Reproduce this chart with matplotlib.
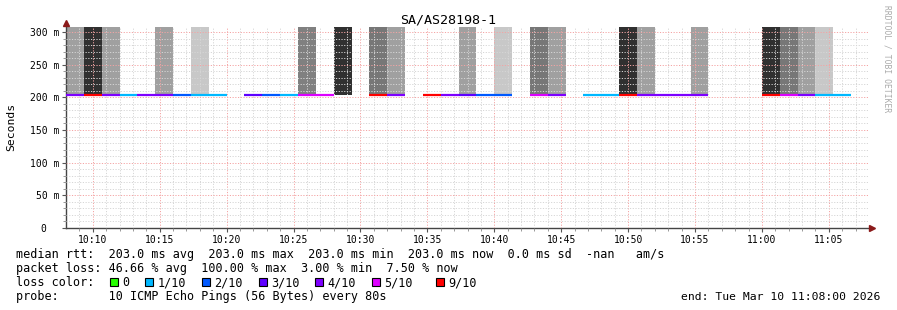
# SmokePing style latency graph for SA/AS28198-1

import matplotlib
matplotlib.use('Agg')
import matplotlib.pyplot as plt
from matplotlib.patches import Rectangle

W, H = 897, 310
MONO = 'DejaVu Sans Mono'

title = 'SA/AS28198-1'
step_min = 80 / 60          # one bin = 80 s
start_min = 8               # minutes after 10:00
median_ms = 203.0

# loss per 80 s bin, in tenths (None = no data)
loss = [4, 9, 4, 1, 4, 4, 2, 1, 1, None,
        3, 2, 1, 5, 5, None, None, 9, 4, None,
        9, 4, 3, 2, 2, None, 5, 4, None, 1,
        1, 9, 4, 4, 4, 4, None, None, None, 9,
        5, 4, 1, 1, None]
# smoke shade per bin (None = no smoke)
smoke = ['#a0a0a0', '#303030', '#a0a0a0', None, None, '#a0a0a0', None, '#c8c8c8', None, None,
         None, None, None, '#808080', None, '#303030', None, '#777777', '#a0a0a0', None,
         None, None, '#a0a0a0', None, '#c8c8c8', None, '#777777', '#a0a0a0', None, None,
         None, '#303030', '#a0a0a0', None, None, '#a0a0a0', None, None, None, '#303030',
         '#777777', '#a0a0a0', '#c8c8c8', None, None]

loss_keys = [0, 1, 2, 3, 4, 5, 9]
loss_names = ['0', '1/10', '2/10', '3/10', '4/10', '5/10', '9/10']
loss_cols = ['#26ff00', '#00b8ff', '#0059ff', '#5e00ff', '#7e00ff', '#dd00ff', '#ff0000']

x_ticks = [10, 15, 20, 25, 30, 35, 40, 45, 50, 55, 60, 65]
x_labels = ['10:10', '10:15', '10:20', '10:25', '10:30', '10:35',
            '10:40', '10:45', '10:50', '10:55', '11:00', '11:05']
y_ticks = [0, 50, 100, 150, 200, 250, 300]
y_labels = ['0  ', '50 m', '100 m', '150 m', '200 m', '250 m', '300 m']

legend_lines = [
    'median rtt:  203.0 ms avg  203.0 ms max  203.0 ms min  203.0 ms now  0.0 ms sd  -nan   am/s',
    'packet loss: 46.66 % avg  100.00 % max  3.00 % min  7.50 % now',
    'loss color:',
    'probe:       10 ICMP Echo Pings (56 Bytes) every 80s',
]
end_text = 'end: Tue Mar 10 11:08:00 2026'


def fx(px):
    return px / W


def fy(py):
    return 1 - py / H


plt.rcParams['font.family'] = [MONO, 'DejaVu Sans']
fig = plt.figure(figsize=(W / 100, H / 100), dpi=100)
fig.patch.set_facecolor('white')

ax = fig.add_axes([fx(66), fy(228), (869 - 66) / W, (228 - 27) / H])
ax.set_xlim(8, 68)
ax.set_ylim(0, 307.7)

# smoke
starts = [start_min + i * step_min for i in range(len(loss))]
for s, c in zip(starts, smoke):
    if c is not None:
        ax.bar(s, 400 - median_ms, bottom=median_ms, width=step_min, align='edge',
               color=c, linewidth=0, zorder=1)

# median line coloured by loss
col_of = dict(zip(loss_keys, loss_cols))
for s, l in zip(starts, loss):
    if l is not None:
        ax.hlines(median_ms, s, s + step_min, colors=col_of[l], linewidth=1.6, zorder=3)

# grid
ax.set_xticks(x_ticks)
ax.set_xticks([m for m in range(9, 68)], minor=True)
ax.set_yticks(y_ticks)
ax.set_yticks([v for v in range(10, 308, 10)], minor=True)
ax.set_axisbelow(False)
ax.grid(True, which='minor', color='#d6d6d6', linestyle=(0, (1.2, 1.6)), linewidth=0.7)
ax.grid(True, which='major', color='#f4a4a4', linestyle=(0, (1.2, 1.6)), linewidth=0.7)

ax.set_xticklabels(x_labels, fontsize=7, fontfamily=MONO)
ax.set_yticklabels(y_labels, fontsize=7, fontfamily=MONO)
ax.tick_params(which='major', length=3, width=0.8, color='#555555', pad=2)
ax.tick_params(which='minor', length=2, width=0.6, color='#888888')

for side in ['top', 'right']:
    ax.spines[side].set_visible(False)
for side in ['left', 'bottom']:
    ax.spines[side].set_color('#444444')
    ax.spines[side].set_linewidth(1.0)

# axis arrows
ax.plot([0], [1.02], marker='^', markersize=4, color='#8b1a1a', transform=ax.transAxes,
        clip_on=False, zorder=5)
ax.plot([1.004], [0], marker='>', markersize=4, color='#8b1a1a', transform=ax.transAxes,
        clip_on=False, zorder=5)

# texts
fig.text(fx(448), fy(20), title, ha='center', va='center', fontsize=9.6, fontfamily=MONO)
fig.text(fx(11), fy(127), 'Seconds', rotation=90, ha='center', va='center', fontsize=8.2,
         fontfamily=MONO)
fig.text(fx(887), fy(5), 'RRDTOOL / TOBI OETIKER', rotation=-90, ha='center', va='top',
         fontsize=5.8, color='#aaaaaa', fontfamily=MONO)

char_w = 7.08
for i, line in enumerate(legend_lines):
    fig.text(fx(16), fy(258 + 14 * i), line, ha='left', va='baseline', fontsize=8.45,
             fontfamily=MONO)

box_idx = [13, 18, 26, 34, 42, 50, 59]
for bi, name, c in zip(box_idx, loss_names, loss_cols):
    bx = 16 + bi * char_w + 2
    fig.patches.append(Rectangle((fx(bx), fy(286)), 8 / W, 8 / H, transform=fig.transFigure,
                                 facecolor=c, edgecolor='black', linewidth=0.8))
    fig.text(fx(16 + (bi + 2) * char_w), fy(286), name, ha='left', va='baseline',
             fontsize=8.45, fontfamily=MONO)

fig.text(fx(880), fy(300), end_text, ha='right', va='baseline', fontsize=8.2, fontfamily=MONO)

fig.savefig('out.png', dpi=100, facecolor='white')
